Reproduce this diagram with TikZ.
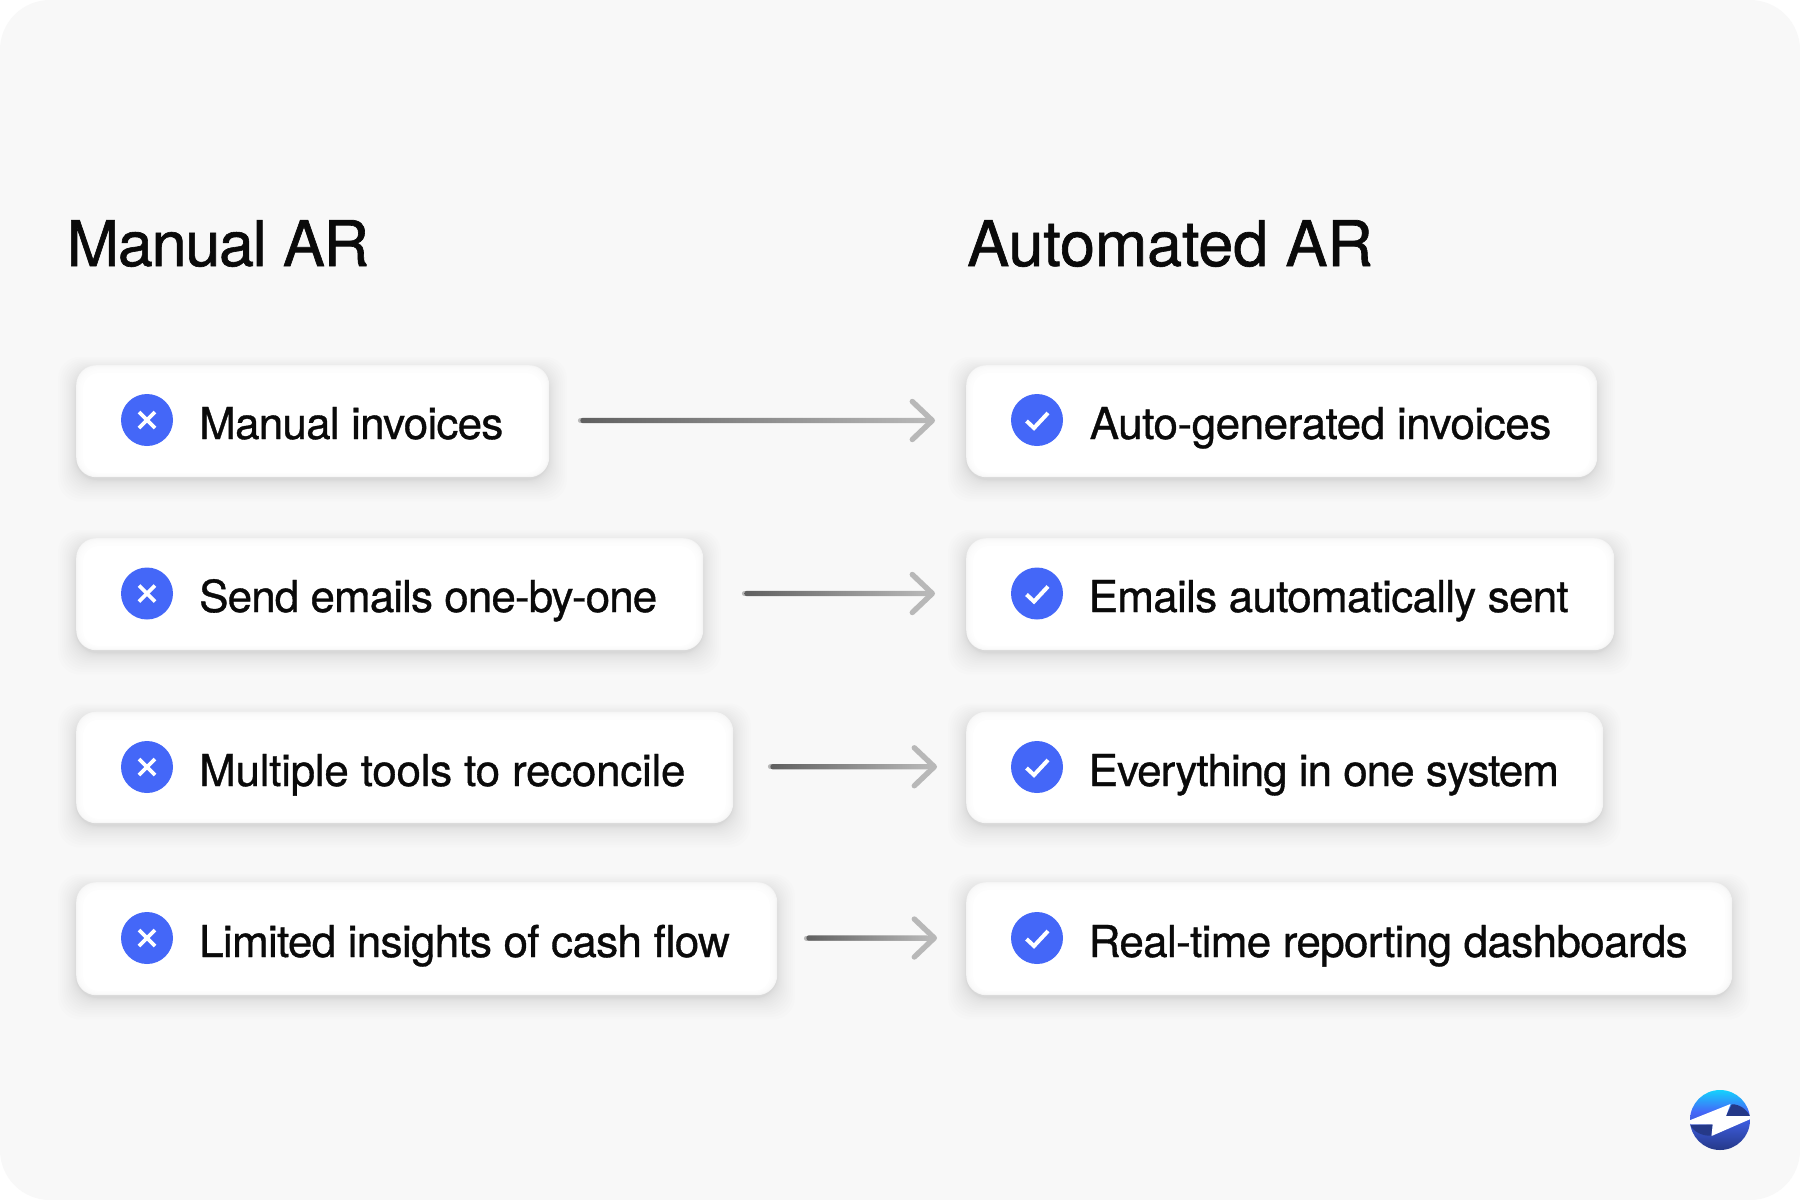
\documentclass[tikz,border=0pt]{standalone}
\usepackage{fontspec}
\setmainfont{TeX Gyre Heros}
\newfontfamily\rowfont[FakeBold=0.8]{TeX Gyre Heros}
\newfontfamily\headfont[FakeBold=1]{TeX Gyre Heros}
\usetikzlibrary{arrows.meta,calc}
\definecolor{panel}{HTML}{F8F8F8}
\definecolor{mark}{HTML}{4467F8}
\definecolor{ink}{HTML}{0A0A0A}
\definecolor{tipgrey}{HTML}{B8B8B8}
\definecolor{startgrey}{HTML}{606060}
\newcommand\tracked[2]{{\addfontfeature{LetterSpace=#1}#2}}
\tikzset{
  heading/.style={anchor=base west,inner sep=0pt,text=ink,font=\headfont\fontsize{63}{63}\selectfont},
  rowlabel/.style={anchor=base west,inner sep=0pt,text=ink,font=\rowfont\fontsize{44}{44}\selectfont},
  card/.style={anchor=north west,fill=white!96!black,rounded corners=20pt,inner sep=0pt},
  badge/.style={circle,fill=mark,minimum size=52pt,inner sep=0pt},
  glyph/.style={draw=white,line width=3.6pt},
  connector/.style={draw=tipgrey,line width=5pt,line cap=round,
     -{Straight Barb[length=20pt,width=38pt,line width=5.4pt,round]}},
}
% name, left, top, right, bottom
\newcommand\mycard[5]{%
  \foreach \g in {1,...,16}{%
    \pgfmathsetmacro\e{(\g/16)*(\g/16)*24}%
    \fill[black,opacity=0.0085,rounded corners=22pt]
      (#2-\e*0.75,#3+5-\e*0.55) rectangle (#4+\e*0.75,#5+3+\e*0.9);
  }%
  \pgfmathsetmacro\cw{#4-#2}\pgfmathsetmacro\ch{#5-#3}%
  \node[card,minimum width=\cw pt,minimum height=\ch pt] (#1) at (#2,#3) {};
  \foreach \g in {1,...,7}{%
    \fill[white,opacity=0.35,rounded corners=19pt]
      (#2+\g*0.9,#3+\g*1.0) rectangle (#4-\g*0.9,#5-\g*0.5);
  }%
  \fill[white,rounded corners=16pt] (#2+7,#3+8) rectangle (#4-7,#5-4);
}
% source, target, source gap, target gap
\newcommand\myarrow[4]{%
  \draw[connector,shorten <=#3pt,shorten >=#4pt] ([yshift=0.7pt]#1.east) -- ([yshift=0.7pt]#1.east -| #2.west);
  \path let \p1=([yshift=0.7pt]#1.east),\p2=(#2.west) in
    [left color=startgrey,right color=tipgrey,rounded corners=2.5pt]
    (\x1+#3pt,\y1-2.7pt) rectangle (\x2-#4pt-8pt,\y1+2.7pt);
}
\newcommand\mycross[1]{%
  \draw[glyph] ($(#1)+(-8,-8)$) -- ($(#1)+(8,8)$);
  \draw[glyph] ($(#1)+(-8,8)$) -- ($(#1)+(8,-8)$);
}
\newcommand\mycheck[1]{%
  \draw[glyph,line width=4pt] ($(#1)+(-10.5,1)$) -- ($(#1)+(-3,8)$) -- ($(#1)+(11,-7)$);
}
\begin{document}
\begin{tikzpicture}[x=1pt,y=-1pt]
\useasboundingbox (0,0) rectangle (1800,1200);
\fill[white] (0,0) rectangle (1800,1200);
\fill[panel,rounded corners=50pt] (0,0) rectangle (1800,1200);

\node[heading] (hl) at (66.5,266) {\tracked{-2.1}{Manual AR}};
\node[heading] (hr) at (967,266) {\tracked{-0.3}{Automated AR}};

\mycard{l1}{76}{365}{549}{477}
\mycard{l2}{76}{538}{703}{650}
\mycard{l3}{76}{711.5}{733}{823}
\mycard{l4}{76}{882}{777}{995}
\mycard{r1}{966}{365}{1597}{477}
\mycard{r2}{966}{538}{1614}{650}
\mycard{r3}{966}{711.5}{1603}{823}
\mycard{r4}{966}{882}{1732}{995}

\node[badge] (bl1) at (147,420) {}; \mycross{bl1}
\node[badge] (bl2) at (147,593.5) {}; \mycross{bl2}
\node[badge] (bl3) at (147,767) {}; \mycross{bl3}
\node[badge] (bl4) at (147,938) {}; \mycross{bl4}
\node[badge] (br1) at (1037,420) {}; \mycheck{br1}
\node[badge] (br2) at (1037,593.5) {}; \mycheck{br2}
\node[badge] (br3) at (1037,767) {}; \mycheck{br3}
\node[badge] (br4) at (1037,938) {}; \mycheck{br4}

\node[rowlabel] (tl1) at (199,439) {\tracked{-1.75}{Manual invoices}};
\node[rowlabel] (tl2) at (199,612) {\tracked{-2.1}{Send emails one-by-one}};
\node[rowlabel] (tl3) at (199,786) {\tracked{-0.63}{Multiple tools to reconcile}};
\node[rowlabel] (tl4) at (199,957) {\tracked{-1.58}{Limited insights of cash flow}};
\node[rowlabel] (tr1) at (1089.5,439) {\tracked{-1.06}{Auto-generated invoices}};
\node[rowlabel] (tr2) at (1088.5,612) {\tracked{-1.62}{Emails automatically sent}};
\node[rowlabel] (tr3) at (1088.5,786) {\tracked{-2.27}{Everything in one system}};
\node[rowlabel] (tr4) at (1088.5,957) {\tracked{-1.49}{Real-time reporting dashboards}};

\myarrow{l1}{r1}{31}{31}
\myarrow{l2}{r2}{41}{31}
\myarrow{l3}{r3}{37}{29}
\myarrow{l4}{r4}{29}{29}

% logo
\begin{scope}
  \clip (1720,1120) circle (30pt);
  \shade[top color=mark,bottom color=mark!55!black] (1690,1112) rectangle (1750,1150);
  \shade[top color=cyan!70!mark,bottom color=mark] (1690,1090) rectangle (1750,1112);
  \fill[mark!55!black] (1731.7,1104.3) .. controls (1740,1104) and (1747,1110) .. (1750,1116) -- (1726,1116) -- cycle;
  \fill[mark!55!black] (1690,1125) -- (1712.7,1124.3) -- (1711,1135.7) .. controls (1702,1136) and (1694,1132) .. (1690,1125) -- cycle;
  \fill[white] (1688,1121) -- (1730.5,1104) -- (1726,1116) -- (1752,1116) -- (1750.5,1119) -- (1711.5,1136) -- (1712.7,1124.3) -- (1688,1124.5) -- cycle;
\end{scope}
\end{tikzpicture}
\end{document}
